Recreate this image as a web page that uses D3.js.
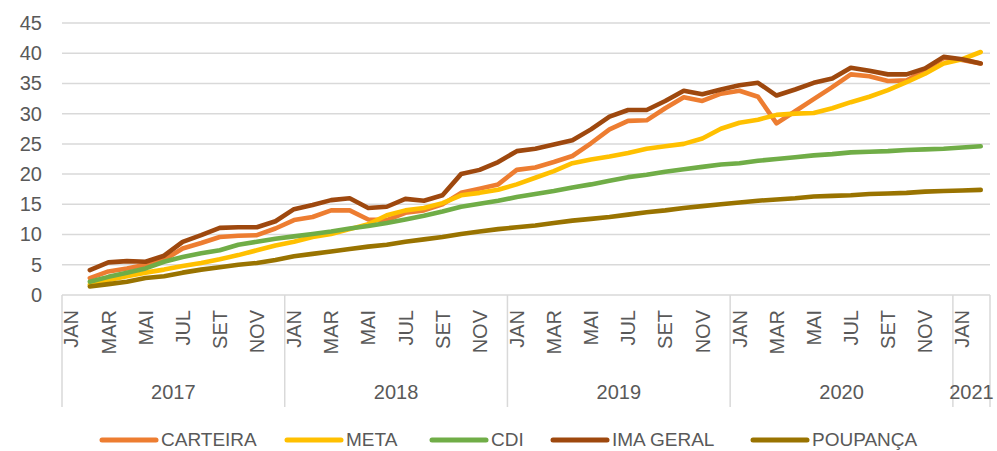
<!DOCTYPE html>
<html><head><meta charset="utf-8">
<script src="https://cdn.jsdelivr.net/npm/d3@7"></script>
<style>body{margin:0;background:#fff}svg{display:block}text{font-family:"Liberation Sans",Arial,sans-serif;fill:#595959}</style>
</head><body><svg id="c" width="997" height="451"></svg>
<script>
const monthNames = ["JAN","FEV","MAR","ABR","MAI","JUN","JUL","AGO","SET","OUT","NOV","DEZ"];
const years = ["2017","2018","2019","2020","2021"];
const yTicks = [0,5,10,15,20,25,30,35,40,45];
const categories = [];
years.forEach(y => monthNames.forEach(m => { if (!(y === "2021" && categories.filter(c=>c.year==="2021").length >= 2)) categories.push({year:y, month:m}); }));
const shownMonths = ["JAN","MAR","MAI","JUL","SET","NOV"];

const carteira = [null,2.8,3.9,4.4,5.0,5.8,7.7,8.6,9.6,9.8,9.9,11.0,
  12.4,12.9,14.0,14.0,12.5,12.4,13.6,14.0,15.0,16.9,17.6,18.3,
  20.7,21.1,22.0,23.0,25.1,27.4,28.8,28.9,30.9,32.7,32.1,33.3,
  33.8,32.8,28.4,30.4,32.4,34.4,36.5,36.2,35.4,35.5,37.2,39.2,
  38.9,38.3];
const meta = [null,1.7,2.5,3.1,3.7,4.2,4.8,5.3,5.9,6.6,7.4,8.2,
  8.8,9.6,10.1,10.9,11.7,13.2,14.0,14.4,15.2,16.5,16.9,17.4,
  18.3,19.4,20.5,21.8,22.4,22.9,23.5,24.2,24.6,25.0,25.9,27.5,
  28.5,29.0,29.8,30.0,30.1,30.9,31.9,32.8,33.9,35.2,36.6,38.3,
  39.0,40.2];
const cdi = [null,2.2,3.0,3.7,4.4,5.5,6.3,6.9,7.4,8.3,8.8,9.3,
  9.7,10.1,10.5,11.0,11.4,11.9,12.5,13.1,13.8,14.6,15.1,15.6,
  16.2,16.7,17.2,17.8,18.3,18.9,19.5,19.9,20.4,20.8,21.2,21.6,
  21.8,22.2,22.5,22.8,23.1,23.3,23.6,23.7,23.8,24.0,24.1,24.2,
  24.4,24.6];
const imaGeral = [null,4.1,5.4,5.6,5.5,6.5,8.8,9.9,11.1,11.2,11.2,12.2,
  14.2,14.9,15.7,16.0,14.4,14.6,15.9,15.6,16.5,20.0,20.7,22.0,
  23.8,24.2,24.9,25.6,27.4,29.5,30.6,30.6,32.1,33.8,33.2,34.0,
  34.7,35.1,33.0,34.0,35.1,35.8,37.6,37.1,36.5,36.5,37.5,39.4,
  39.0,38.3];
const poupanca = [null,1.4,1.8,2.2,2.8,3.1,3.7,4.2,4.6,5.0,5.3,5.8,
  6.4,6.8,7.2,7.6,8.0,8.3,8.8,9.2,9.6,10.1,10.5,10.9,
  11.2,11.5,11.9,12.3,12.6,12.9,13.3,13.7,14.0,14.4,14.7,15.0,
  15.3,15.6,15.8,16.0,16.3,16.4,16.5,16.7,16.8,16.9,17.1,17.2,
  17.3,17.4];

const seriesNames = ["CARTEIRA","META","CDI","IMA GERAL","POUPANÇA"];
const seriesValues = [carteira, meta, cdi, imaGeral, poupanca];
const colors = ["#ED7D31","#FFC000","#70AD47","#9E480E","#997300"];

const svg = d3.select("#c");
const L = 62, R = 990, T = 23, B = 295;
const x = d3.scaleBand().domain(d3.range(categories.length)).range([L, R]).padding(0);
const xc = i => x(i) + x.bandwidth()/2;
const y = d3.scaleLinear().domain([0,45]).range([B, T]);

// gridlines
svg.append("g").selectAll("line").data(yTicks.filter(t=>t>0)).join("line")
  .attr("x1", L).attr("x2", R).attr("y1", d=>y(d)).attr("y2", d=>y(d))
  .attr("stroke", "#d9d9d9").attr("stroke-width", 1.5);

// y axis labels
const yAxis = d3.axisLeft(y).tickValues(yTicks).tickSize(0).tickPadding(0);
const yg = svg.append("g").attr("transform", `translate(42,0)`).call(yAxis);
yg.select(".domain").remove();
yg.selectAll("text").attr("font-size", 20).style("fill","#595959").attr("font-family","Liberation Sans, Arial, sans-serif");

// category axis
svg.append("line").attr("x1", L).attr("x2", R).attr("y1", B).attr("y2", B).attr("stroke", "#d9d9d9").attr("stroke-width", 1.5);
const yearStarts = years.map(yr => categories.findIndex(c => c.year === yr));
const seps = yearStarts.map(i => x(i)).concat([R]);
svg.append("g").selectAll("line").data(seps).join("line")
  .attr("x1", d=>d).attr("x2", d=>d).attr("y1", B).attr("y2", 407)
  .attr("stroke", "#d9d9d9").attr("stroke-width", 1.5);

svg.append("g").selectAll("text").data(categories.map((c,i)=>({c,i})).filter(d=>shownMonths.includes(d.c.month))).join("text")
  .attr("transform", d => `translate(${xc(d.i)},310) rotate(-90)`)
  .attr("text-anchor", "end").attr("dy", "0.36em").attr("font-size", 20)
  .text(d => d.c.month);

svg.append("g").selectAll("text").data(years).join("text")
  .attr("x", (d,k) => (seps[k] + seps[k+1]) / 2).attr("y", 399)
  .attr("text-anchor", "middle").attr("font-size", 20).text(d => d);

// lines
const line = d3.line().defined(d => d != null).x((d,i) => xc(i)).y(d => y(d));
svg.append("g").selectAll("path").data(seriesValues).join("path")
  .attr("d", d => line(d)).attr("fill", "none")
  .attr("stroke", (d,k) => colors[k]).attr("stroke-width", 4.6)
  .attr("stroke-linejoin", "round").attr("stroke-linecap", "round");

// legend
const legX = [102, 287, 432, 553, 753];
const lg = svg.append("g").selectAll("g").data(seriesNames).join("g")
  .attr("transform", (d,k) => `translate(${legX[k]},440)`);
lg.append("line").attr("x1", 0).attr("x2", 54).attr("y1", 0).attr("y2", 0)
  .attr("stroke", (d,k) => colors[k]).attr("stroke-width", 5).attr("stroke-linecap", "round");
lg.append("text").attr("x", 59).attr("y", 0).attr("dy", "0.33em").attr("font-size", 19).text(d => d);
</script></body></html>
